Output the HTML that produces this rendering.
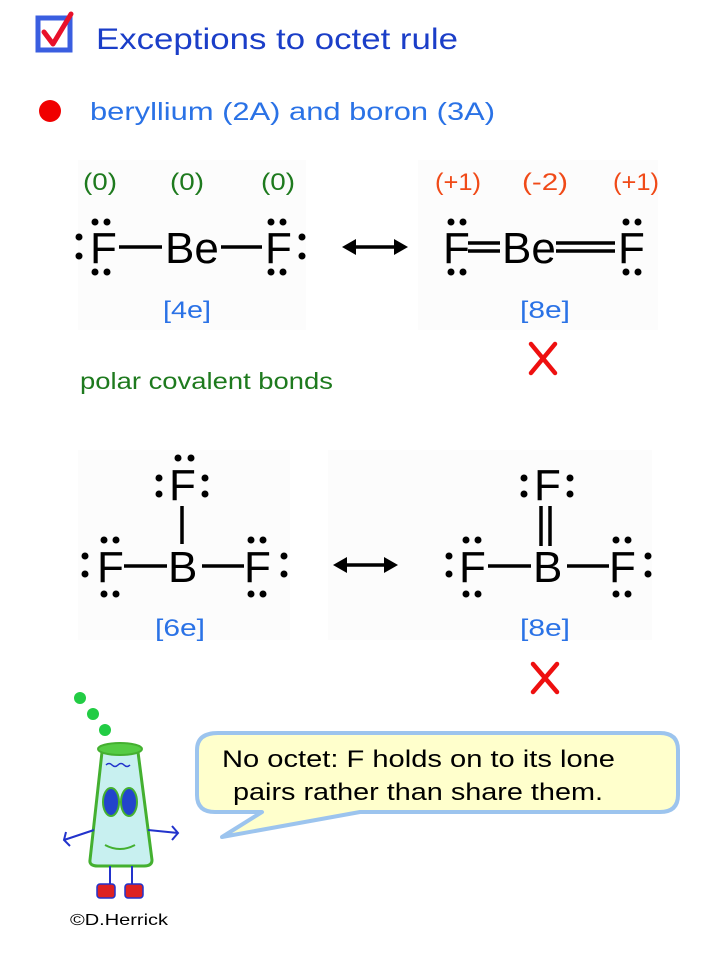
<!DOCTYPE html>
<html><head><meta charset="utf-8"><style>
html,body{margin:0;padding:0;background:#fff;}
svg{display:block;}
text{font-family:"Liberation Sans",sans-serif;}
</style></head><body>
<svg width="720" height="960" viewBox="0 0 720 960" xmlns="http://www.w3.org/2000/svg">
<!-- faint image backgrounds -->
<rect x="78" y="160" width="228" height="170" fill="#fcfcfc"/>
<rect x="418" y="160" width="240" height="170" fill="#fcfcfc"/>
<rect x="78" y="450" width="212" height="190" fill="#fcfcfc"/>
<rect x="328" y="450" width="324" height="190" fill="#fcfcfc"/>

<!-- checkbox -->
<rect x="38" y="18" width="32" height="32" fill="#fff" stroke="#3a5ee0" stroke-width="5"/>
<path d="M44 32 L53 44 L71 14" fill="none" stroke="#e8102a" stroke-width="5" stroke-linecap="round" stroke-linejoin="round"/>
<text x="96" y="49" font-size="30" fill="#1b3ec8" textLength="362" lengthAdjust="spacingAndGlyphs">Exceptions to octet rule</text>

<circle cx="50" cy="111" r="11" fill="#f00000"/>
<text x="90" y="120" font-size="25" fill="#2a72e6" textLength="405" lengthAdjust="spacingAndGlyphs">beryllium (2A) and boron (3A)</text>

<!-- charges -->
<g font-size="24" fill="#1e7a1e">
<text x="83" y="190" textLength="34" lengthAdjust="spacingAndGlyphs">(0)</text>
<text x="170" y="190" textLength="34" lengthAdjust="spacingAndGlyphs">(0)</text>
<text x="261" y="190" textLength="34" lengthAdjust="spacingAndGlyphs">(0)</text>
</g>
<g font-size="24" fill="#f04a18">
<text x="435" y="190" textLength="46" lengthAdjust="spacingAndGlyphs">(+1)</text>
<text x="522" y="190" textLength="46" lengthAdjust="spacingAndGlyphs">(-2)</text>
<text x="613" y="190" textLength="46" lengthAdjust="spacingAndGlyphs">(+1)</text>
</g>

<!-- BeF2 -->
<g font-size="44" fill="#000">
<text x="90" y="263">F</text>
<text x="165" y="263">Be</text>
<text x="265" y="263">F</text>
<text x="443" y="263">F</text>
<text x="502" y="263">Be</text>
<text x="618" y="263">F</text>
</g>
<g fill="#000">
<circle cx="79" cy="237" r="3.5"/><circle cx="79" cy="256" r="3.5"/>
<circle cx="95" cy="222" r="3.5"/><circle cx="107" cy="222" r="3.5"/>
<circle cx="95" cy="272" r="3.5"/><circle cx="107" cy="272" r="3.5"/>
<circle cx="271" cy="222" r="3.5"/><circle cx="283" cy="222" r="3.5"/>
<circle cx="271" cy="272" r="3.5"/><circle cx="283" cy="272" r="3.5"/>
<circle cx="302" cy="237" r="3.5"/><circle cx="302" cy="256" r="3.5"/>
<circle cx="451" cy="222" r="3.5"/><circle cx="463" cy="222" r="3.5"/>
<circle cx="451" cy="272" r="3.5"/><circle cx="463" cy="272" r="3.5"/>
<circle cx="626" cy="222" r="3.5"/><circle cx="638" cy="222" r="3.5"/>
<circle cx="626" cy="272" r="3.5"/><circle cx="638" cy="272" r="3.5"/>
</g>
<g stroke="#000" stroke-width="3.5">
<line x1="119" y1="247" x2="162" y2="247"/>
<line x1="221" y1="247" x2="262" y2="247"/>
<line x1="468" y1="243" x2="500" y2="243"/><line x1="468" y1="251" x2="500" y2="251"/>
<line x1="556" y1="243" x2="615" y2="243"/><line x1="556" y1="251" x2="615" y2="251"/>
<line x1="352" y1="247" x2="398" y2="247"/>
<line x1="342" y1="565" x2="388" y2="565"/>
</g>
<path d="M342 247 L356 239 L356 255 Z M408 247 L394 239 L394 255 Z" fill="#000"/>
<path d="M333 565 L347 557 L347 573 Z M398 565 L384 557 L384 573 Z" fill="#000"/>

<g font-size="24" fill="#2a72e6">
<text x="163" y="318" textLength="48" lengthAdjust="spacingAndGlyphs">[4e]</text>
<text x="520" y="318" textLength="50" lengthAdjust="spacingAndGlyphs">[8e]</text>
<text x="155" y="636" textLength="50" lengthAdjust="spacingAndGlyphs">[6e]</text>
<text x="520" y="636" textLength="50" lengthAdjust="spacingAndGlyphs">[8e]</text>
</g>
<g stroke="#ee1010" stroke-width="4.5" stroke-linecap="round">
<line x1="531" y1="344" x2="555" y2="373"/><line x1="555" y1="344" x2="531" y2="373"/>
<line x1="533" y1="664" x2="557" y2="692"/><line x1="557" y1="664" x2="533" y2="692"/>
</g>
<text x="80" y="389" font-size="23" fill="#1e7a1e" textLength="253" lengthAdjust="spacingAndGlyphs">polar covalent bonds</text>

<!-- BF3 -->
<g font-size="44" fill="#000">
<text x="169" y="500">F</text>
<text x="168" y="582">B</text>
<text x="97" y="582">F</text>
<text x="244" y="582">F</text>
<text x="534" y="500">F</text>
<text x="533" y="582">B</text>
<text x="459" y="582">F</text>
<text x="609" y="582">F</text>
</g>
<g stroke="#000" stroke-width="3.5">
<line x1="182" y1="506" x2="182" y2="544"/>
<line x1="124" y1="566" x2="167" y2="566"/>
<line x1="202" y1="566" x2="244" y2="566"/>
<line x1="541" y1="506" x2="541" y2="546"/><line x1="550" y1="506" x2="550" y2="546"/>
<line x1="488" y1="566" x2="531" y2="566"/>
<line x1="567" y1="566" x2="609" y2="566"/>
</g>
<g fill="#000">
<circle cx="159" cy="478" r="3.5"/><circle cx="159" cy="494" r="3.5"/>
<circle cx="205" cy="478" r="3.5"/><circle cx="205" cy="494" r="3.5"/>
<circle cx="178" cy="458" r="3.5"/><circle cx="191" cy="458" r="3.5"/>
<circle cx="85" cy="556" r="3.5"/><circle cx="85" cy="574" r="3.5"/>
<circle cx="104" cy="540" r="3.5"/><circle cx="116" cy="540" r="3.5"/>
<circle cx="104" cy="594" r="3.5"/><circle cx="116" cy="594" r="3.5"/>
<circle cx="251" cy="540" r="3.5"/><circle cx="263" cy="540" r="3.5"/>
<circle cx="251" cy="594" r="3.5"/><circle cx="263" cy="594" r="3.5"/>
<circle cx="284" cy="556" r="3.5"/><circle cx="284" cy="574" r="3.5"/>
<circle cx="524" cy="478" r="3.5"/><circle cx="524" cy="494" r="3.5"/>
<circle cx="570" cy="478" r="3.5"/><circle cx="570" cy="494" r="3.5"/>
<circle cx="449" cy="556" r="3.5"/><circle cx="449" cy="574" r="3.5"/>
<circle cx="466" cy="540" r="3.5"/><circle cx="478" cy="540" r="3.5"/>
<circle cx="466" cy="594" r="3.5"/><circle cx="478" cy="594" r="3.5"/>
<circle cx="616" cy="540" r="3.5"/><circle cx="628" cy="540" r="3.5"/>
<circle cx="616" cy="594" r="3.5"/><circle cx="628" cy="594" r="3.5"/>
<circle cx="648" cy="556" r="3.5"/><circle cx="648" cy="574" r="3.5"/>
</g>

<!-- speech bubble -->
<path d="M218 733 L660 733 Q678 733 678 750 L678 795 Q678 812 660 812 L360 812 L222 837 L262 812 L215 812 Q197 812 197 795 L197 750 Q197 733 218 733 Z" fill="#ffffcc" stroke="#9cc4ee" stroke-width="4" stroke-linejoin="round"/>
<g font-size="24" fill="#000">
<text x="222" y="767" textLength="393" lengthAdjust="spacingAndGlyphs">No octet:  F holds on to its lone</text>
<text x="233" y="800" textLength="370" lengthAdjust="spacingAndGlyphs">pairs rather than share them.</text>
</g>

<!-- flask character -->
<g>
<circle cx="80" cy="698" r="6" fill="#22cc44"/>
<circle cx="93" cy="714" r="6" fill="#22cc44"/>
<circle cx="105" cy="730" r="6" fill="#22cc44"/>
<path d="M102 752 L138 752 L152 860 Q152 866 144 866 L98 866 Q89 866 90 860 Z" fill="#c8f0f0" stroke="#44b030" stroke-width="3"/>
<ellipse cx="120" cy="749" rx="22" ry="6" fill="#55cc44" stroke="#44b030" stroke-width="2"/>
<path d="M106 765 q3 -3 6 0 q3 3 6 0 q3 -3 6 0 q3 3 6 0" fill="none" stroke="#2233cc" stroke-width="1.5"/>
<ellipse cx="111" cy="802" rx="8" ry="14" fill="#2244cc" stroke="#44b030" stroke-width="2"/>
<ellipse cx="129" cy="802" rx="8" ry="14" fill="#2244cc" stroke="#44b030" stroke-width="2"/>
<path d="M105 845 q15 8 30 0" fill="none" stroke="#44b030" stroke-width="2"/>
<path d="M94 830 L64 840 M66 832 L64 840 L70 846 M148 830 L178 833 M172 826 L178 833 L172 840" fill="none" stroke="#2233cc" stroke-width="2"/>
<path d="M110 866 L110 890 M132 866 L132 890" stroke="#2233cc" stroke-width="2"/>
<rect x="97" y="884" width="18" height="14" rx="3" fill="#dd2222" stroke="#2233cc" stroke-width="1.5"/>
<rect x="125" y="884" width="18" height="14" rx="3" fill="#dd2222" stroke="#2233cc" stroke-width="1.5"/>
</g>
<text x="70" y="925" font-size="16" fill="#000" textLength="98" lengthAdjust="spacingAndGlyphs">©D.Herrick</text>
</svg>
</body></html>
